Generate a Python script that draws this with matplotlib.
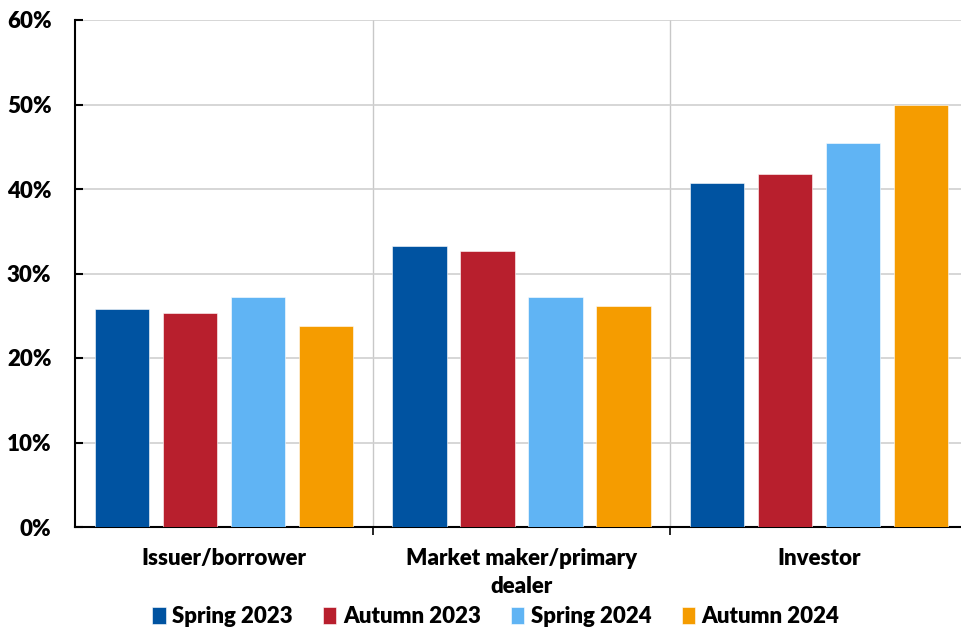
import numpy as np
import matplotlib.pyplot as plt
from matplotlib.ticker import FuncFormatter, FixedLocator

plt.rcParams['font.family'] = ['Lato', 'DejaVu Sans']
plt.rcParams['font.weight'] = 'heavy'

categories = ['Issuer/borrower', 'Market maker/primary\ndealer', 'Investor']
series = ['Spring 2023', 'Autumn 2023', 'Spring 2024', 'Autumn 2024']
spring_2023 = [25.8, 33.3, 40.7]
autumn_2023 = [25.3, 32.7, 41.8]
spring_2024 = [27.2, 27.2, 45.4]
autumn_2024 = [23.8, 26.2, 49.9]
colors = ['#0053A1', '#B81F2D', '#60B4F4', '#F59C00']

values = [spring_2023, autumn_2023, spring_2024, autumn_2024]
fs = 16

fig = plt.figure(figsize=(9.61, 6.28), dpi=100)
ax = fig.add_axes([75 / 961, 1 - 527 / 628, 893 / 961, 507 / 628])

x = np.arange(len(categories))
width = 0.182
step = 0.2286
for i, (name, vals, c) in enumerate(zip(series, values, colors)):
    ax.bar(x + (i - 1.5) * step, vals, width, color=c, label=name,
           edgecolor='white', linewidth=0.4, zorder=3)

ax.set_xlim(-0.5, len(categories) - 0.5)
ax.set_ylim(0, 60)
ax.set_yticks(np.arange(0, 61, 10))
ax.yaxis.set_major_formatter(FuncFormatter(lambda v, p: f'{v:.0f}%'))
ax.grid(axis='y', color='#D0D0D0', linewidth=1.2, zorder=0)

# category separators
seps = [0.5, 1.5]
for s in seps:
    ax.axvline(s, color='#C8C8C8', linewidth=1.0, zorder=0)
ax.xaxis.set_major_locator(FixedLocator(seps))
ax.xaxis.set_major_formatter(FuncFormatter(lambda v, p: ''))
ax.xaxis.set_minor_locator(FixedLocator(x))
ax.set_xticklabels(categories, minor=True, linespacing=1.4)
ax.tick_params(axis='x', which='minor', length=0, pad=15, labelsize=fs)
ax.tick_params(axis='x', which='major', direction='out', length=6, width=1.2, color='black')
ax.tick_params(axis='y', direction='in', length=6, width=1.5, pad=17, labelsize=fs)

for side in ['top', 'right']:
    ax.spines[side].set_visible(False)
ax.spines['left'].set_linewidth(1.5)
ax.spines['bottom'].set_linewidth(1.5)

ax.legend(loc='lower center', bbox_to_anchor=(421 / 893, -0.215), ncol=4,
          frameon=False, fontsize=fs, handlelength=0.6, handleheight=0.75,
          handletextpad=0.3, columnspacing=1.35, borderaxespad=0)

fig.savefig('out.png', dpi=100)
